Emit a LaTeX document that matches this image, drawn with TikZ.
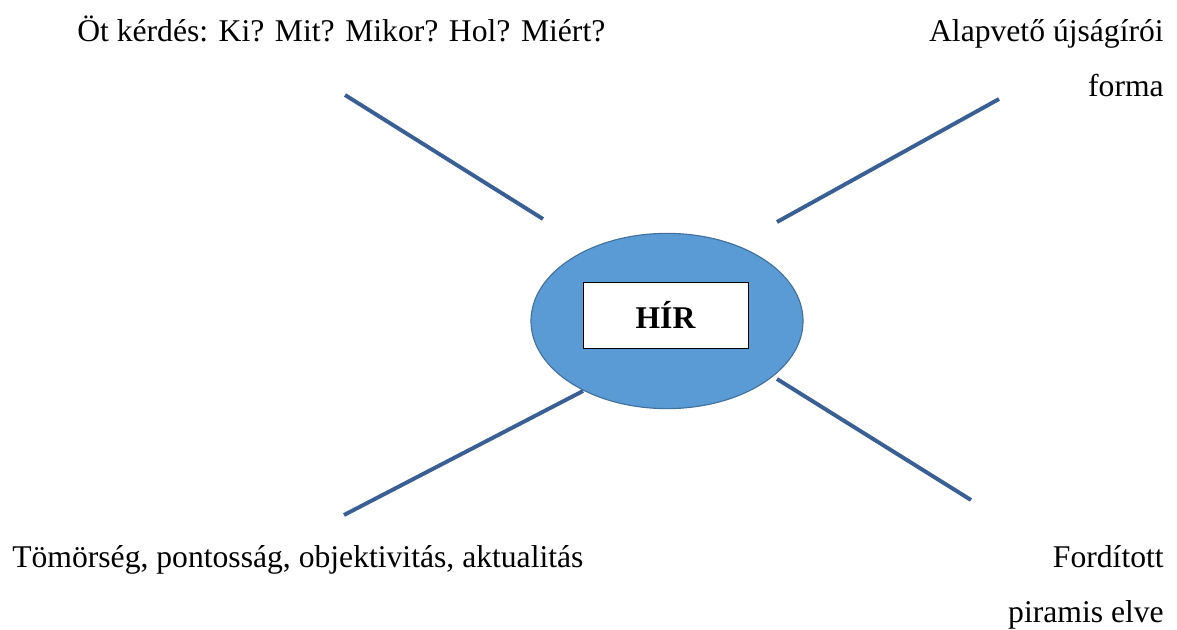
\documentclass[tikz,border=0pt]{standalone}
\usepackage{fontspec}
\setmainfont{Liberation Serif}
\usetikzlibrary{shapes.geometric}
\definecolor{hirfill}{HTML}{5B9BD5}
\definecolor{hirborder}{HTML}{41719C}
\definecolor{spoke}{HTML}{3A5F95}
\tikzset{
  label text/.style = {inner sep=0pt, font=\fontsize{22.5}{27}\selectfont},
  spoke line/.style = {draw=spoke, line width=2.8pt}
}

\begin{document}
\begin{tikzpicture}[x=0.025cm, y=-0.025cm]

    %% Hír

    % Frame
    \useasboundingbox (0,0) rectangle (1177,630);

    % Centre
    \node[ellipse, draw=hirborder, fill=hirfill, line width=0.8pt,
          minimum width=6.8cm, minimum height=4.38cm] (hir) at (667,321) {};
    \node[draw=black, fill=white, line width=0.6pt, minimum width=4.12cm,
          minimum height=1.65cm, font=\fontsize{22.5}{27}\selectfont\bfseries] (cim) at (665.5,315) {HÍR};

    % Spoke ends
    \coordinate (tl1) at (345,95);
    \coordinate (tl2) at (543,219);
    \coordinate (tr1) at (999,99);
    \coordinate (tr2) at (777,222);
    \coordinate (bl1) at (344,515);
    \coordinate (bl2) at (583,391);
    \coordinate (br1) at (971,500);
    \coordinate (br2) at (777,379);

    % Spokes
    \draw[spoke line] (tl1) -- (tl2);
    \draw[spoke line] (tr1) -- (tr2);
    \draw[spoke line] (bl1) -- (bl2);
    \draw[spoke line] (br1) -- (br2);

    % Labels
    \node[label text, anchor=base west] (kerdes) at (77,42) {Öt kérdés: Ki? Mit? Mikor? Hol? Miért?};
    \node[label text, anchor=base east] (forma1) at (1164,42) {Alapvető újságírói};
    \node[label text, anchor=base east] (forma2) at (1164,97) {forma};
    \node[label text, anchor=base west] (jegyek) at (12,567) {Tömörség, pontosság, objektivitás, aktualitás};
    \node[label text, anchor=base east] (piramis1) at (1164,567) {Fordított};
    \node[label text, anchor=base east] (piramis2) at (1164,622) {piramis elve};

\end{tikzpicture}
\end{document}
